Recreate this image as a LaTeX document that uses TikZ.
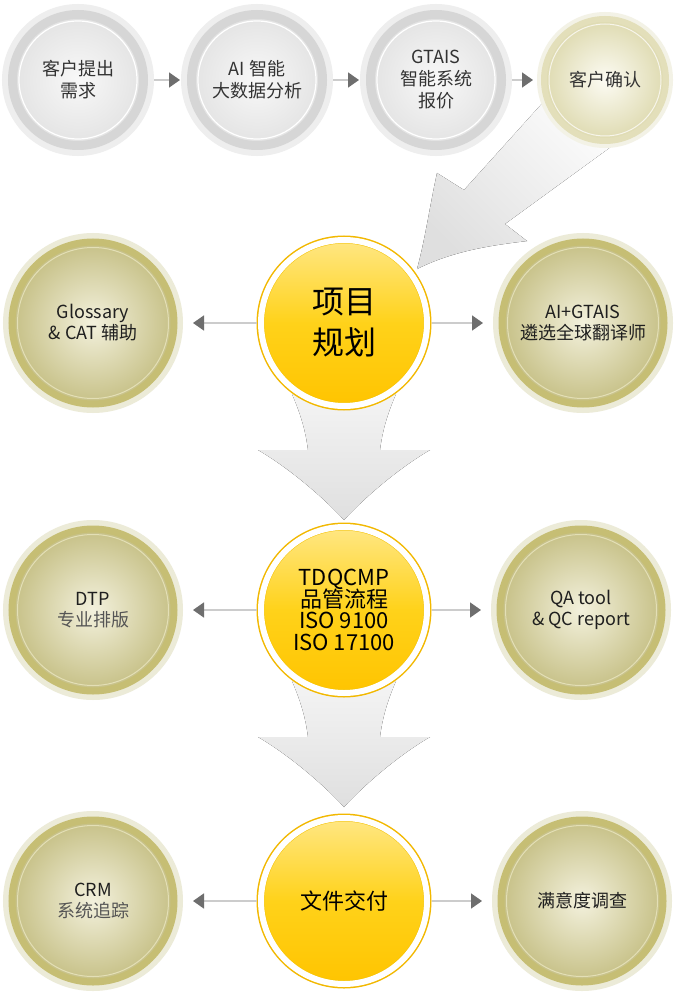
\documentclass[tikz,border=0pt]{standalone}
\usepackage{fontspec}
\setmainfont{Noto Sans CJK SC}
\usetikzlibrary{arrows.meta,backgrounds}

\definecolor{gpale}{HTML}{EEEEEE}
\definecolor{gring}{HTML}{D6D6D6}
\definecolor{gin}{HTML}{F8F8F8}
\definecolor{gout}{HTML}{E3E3E3}
\definecolor{kpale}{HTML}{ECEBD8}
\definecolor{kring}{HTML}{C6BE74}
\definecolor{kin}{HTML}{F3F1DD}
\definecolor{kout}{HTML}{C6C086}
\definecolor{kline}{HTML}{E3DFB6}
\definecolor{cpale}{HTML}{F3F2E6}
\definecolor{cring}{HTML}{E3DFBA}
\definecolor{cin}{HTML}{FCFBF3}
\definecolor{cout}{HTML}{DEDAB0}
\definecolor{yedge}{HTML}{F2B800}
\definecolor{yline}{HTML}{F5C200}
\definecolor{ytop}{HTML}{FFE784}
\definecolor{ymid}{HTML}{FFD21A}
\definecolor{ybot}{HTML}{FFC400}
\definecolor{lineg}{HTML}{CCCCCC}
\definecolor{tipg}{HTML}{6E6E6E}
\definecolor{arrlight}{HTML}{F4F4F4}
\definecolor{arrdark}{HTML}{DFDFDF}
\definecolor{txt}{HTML}{333333}
\definecolor{subtxt}{HTML}{555555}

\newcommand\tightlines{\lineskiplimit=-10pt\relax}

\begin{document}
\begin{tikzpicture}[x=1pt, y=-1pt,
		bubble/.style={circle, inner sep=0pt, align=center},
		graybubble/.style={bubble, minimum size=131pt, outer sep=10.5pt,
			draw=gring, line width=9pt, inner color=gin, outer color=gout,
			preaction={draw=gpale, line width=21pt},
			path picture={\draw[white, line width=1.2pt] (path picture bounding box.center) circle (59pt);},
			text=txt, font=\fontsize{18}{22}\selectfont},
		khakibubble/.style={bubble, minimum size=162pt, outer sep=9pt,
			draw=kring, line width=7pt, inner color=kin, outer color=kout,
			preaction={draw=kpale, line width=18pt},
			path picture={\draw[kline, line width=1pt] (path picture bounding box.center) circle (75.5pt);},
			text=black!88, font=\fontsize{18}{21}\selectfont},
		confirmbubble/.style={bubble, minimum size=122pt, outer sep=7pt,
			draw=cring, line width=6pt, inner color=cin, outer color=cout,
			preaction={draw=cpale, line width=14pt},
			path picture={\draw[white!70!cring, line width=1pt] (path picture bounding box.center) circle (56pt);},
			text=txt, font=\fontsize{18}{22}\selectfont},
		yellowbubble/.style={bubble, minimum size=166pt, outer sep=4.5pt,
			draw=white, line width=6pt, top color=ytop, bottom color=ybot, middle color=ymid,
			preaction={draw=yedge, line width=9pt},
			path picture={\draw[yline, line width=1pt] (path picture bounding box.center) circle (80pt);},
			text=black},
		flow/.style={draw=lineg, line width=1.6pt, -{Triangle[length=11pt,width=15pt,color=tipg]}, shorten >=10pt},
		bigdown/.style={top color=arrlight, bottom color=arrdark},
		bigdiag/.style={top color=white!70!arrlight, bottom color=arrdark, shading angle=-45}
	]

	% top row: enquiry and quotation
	\node[graybubble] (need) at (78,80) {客户提出\\需求};
	\node[graybubble] (bigdata) at (257,80) {AI 智能\\大数据分析};
	\node[graybubble] (quote) at (436,80) {GTAIS\\智能系统\\报价};
	\node[confirmbubble] (confirm) at (605,80) {客户确认};

	\draw[flow, shorten >=1pt] (need) -- (bigdata);
	\draw[flow, shorten >=1pt] (bigdata) -- (quote);
	\draw[flow, shorten >=4pt] (quote) -- (confirm);

	% main steps
	\node[yellowbubble, font=\fontsize{32}{41}\selectfont] (plan) at (344,323) {项目\\规划};
	\node[yellowbubble, font=\fontsize{22}{21.5}\selectfont\tightlines] (qc) at (344,610) {TDQCMP\\品管流程\\ISO 9100\\ISO 17100};
	\node[yellowbubble, font=\fontsize{22}{26}\selectfont] (deliver) at (344,901) {文件交付};

	% side steps
	\node[khakibubble] (glossary) at (93,323) {Glossary\\\& CAT 辅助};
	\node[khakibubble] (translator) at (583,323) {AI+GTAIS\\遴选全球翻译师};
	\node[khakibubble] (dtp) at (93,610) {DTP\\\textcolor{subtxt}{专业排版}};
	\node[khakibubble] (qa) at (581,610) {QA tool\\\& QC report};
	\node[khakibubble] (crm) at (93,901) {CRM\\\textcolor{subtxt}{系统追踪}};
	\node[khakibubble] (survey) at (582,901) {满意度调查};

	\foreach \hub/\lft/\rgt in {plan/glossary/translator, qc/dtp/qa, deliver/crm/survey} {
		\draw[flow] (\hub) -- (\lft);
		\draw[flow] (\hub) -- (\rgt);
	}

	% big grey arrows behind the bubbles
	\begin{scope}[on background layer]
		\fill[white] (0,0) rectangle (682,1000);
		\fill[bigdiag, shift={(confirm)}] (-58,18) -- (-141,110) -- (-168,93)
			.. controls (-176,130) and (-180,160) .. (-188,189)
			.. controls (-150,170) and (-110,165) .. (-78,161)
			-- (-100,144) -- (18,58) -- cycle;
		\foreach \src in {plan,qc}
			\fill[bigdown, shift={(\src)}] (-52,71) .. controls (-42,94) and (-38,111) .. (-36,127)
				-- (-86,127) .. controls (-55,145) and (-20,175) .. (0,197)
				.. controls (20,175) and (55,145) .. (86,127)
				-- (36,127) .. controls (38,111) and (42,94) .. (52,71) -- cycle;
	\end{scope}

	\useasboundingbox (0,0) rectangle (682,1000);
\end{tikzpicture}
\end{document}
